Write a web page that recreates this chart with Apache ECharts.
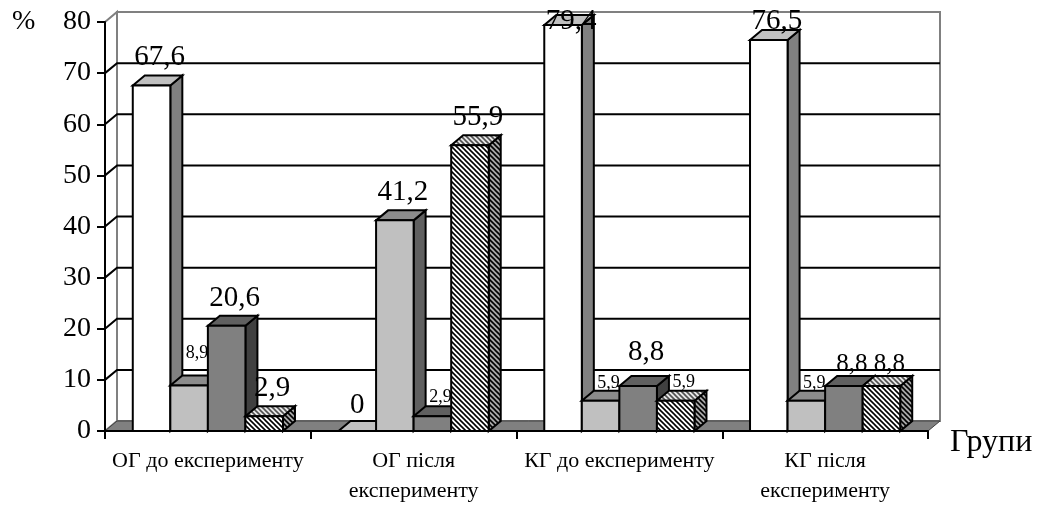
<!DOCTYPE html>
<html>
<head>
<meta charset="utf-8">
<style>
  html, body { margin: 0; padding: 0; background: #ffffff; }
  #chart { width: 1042px; height: 506px; }
</style>
<script src="https://cdn.jsdelivr.net/npm/echarts@6/dist/echarts.min.js"></script>
</head>
<body>
<div id="chart"></div>
<script>
// Groups and the share (%) of each level within a group
const categories = ['ОГ до експерименту', 'ОГ після\nексперименту', 'КГ до експерименту', 'КГ після\nексперименту'];
const level1 = [67.6, 0, 79.4, 76.5];
const level2 = [8.9, 41.2, 5.9, 5.9];
const level3 = [20.6, 2.9, 8.8, 8.8];
const level4 = [2.9, 55.9, 5.9, 8.8];
const yMin = 0, yMax = 80, yStep = 10;
const yTitle = '%';
const xTitle = 'Групи';

const levels = [level1, level2, level3, level4];

const SERIF = '"Liberation Serif", "Times New Roman", serif';
const DX = 12, DY = -10;          // oblique depth of the 3D boxes and walls
const BAR_SHARE = 0.1825;          // one box width as a share of a category slot

function stripes(bg, fg, period, width) {
  const c = document.createElement('canvas');
  c.width = period; c.height = period;
  const g = c.getContext('2d');
  g.fillStyle = bg; g.fillRect(0, 0, period, period);
  g.strokeStyle = fg; g.lineWidth = width;
  for (const off of [-period, 0, period]) {
    g.beginPath();
    g.moveTo(off - 2, -2);
    g.lineTo(off + period + 2, period + 2);
    g.stroke();
  }
  return { image: c, repeat: 'repeat' };
}

const faces = [
  { front: '#ffffff', top: '#c0c0c0', side: '#808080' },
  { front: '#c0c0c0', top: '#8c8c8c', side: '#606060' },
  { front: '#808080', top: '#606060', side: '#404040' },
  { front: stripes('#ffffff', '#000000', 5, 1.6), top: stripes('#e8e8e8', '#505050', 5, 1.6), side: stripes('#a8a8a8', '#000000', 5, 1.6) }
];

// label font size, lift above the box top and sideways shift, per "category:level"
const labelLook = {
  '0:1': { size: 18, gap: 16 },
  '1:0': { size: 29, gap: 6, dx: 0 },
  '1:2': { size: 18, gap: 3 },
  '2:1': { size: 18, gap: 1 },
  '2:2': { size: 29, gap: 14 },
  '2:3': { size: 18, gap: 2 },
  '3:1': { size: 18, gap: 1 },
  '3:2': { size: 25, gap: 3 },
  '3:3': { size: 25, gap: 3 }
};
const SMALL = 20;

function fmt(v) {
  return Number.isInteger(v) ? String(v) : v.toFixed(1).replace('.', ',');
}

function boxGeom(api, cat, lvl, val) {
  const base = api.coord([cat, 0]);
  const top = api.coord([cat, val]);
  const bw = api.size([1, 0])[0] * BAR_SHARE;
  const x0 = base[0] - 2 * bw + lvl * bw;
  return { x0: x0, x1: x0 + bw, y0: base[1], y1: top[1], bw: bw };
}

function boxRenderer(lvl) {
  return function (params, api) {
    const g = boxGeom(api, api.value(0), lvl, api.value(1));
    const f = faces[lvl];
    const edge = { stroke: '#000000', lineWidth: 2, lineJoin: 'miter' };
    return {
      type: 'group',
      children: [
        { type: 'polygon', shape: { points: [[g.x1, g.y1], [g.x1 + DX, g.y1 + DY], [g.x1 + DX, g.y0 + DY], [g.x1, g.y0]] },
          style: Object.assign({ fill: f.side }, edge) },
        { type: 'polygon', shape: { points: [[g.x0, g.y1], [g.x0 + DX, g.y1 + DY], [g.x1 + DX, g.y1 + DY], [g.x1, g.y1]] },
          style: Object.assign({ fill: f.top }, edge) },
        { type: 'rect', shape: { x: g.x0, y: g.y1, width: g.bw, height: g.y0 - g.y1 },
          style: Object.assign({ fill: f.front }, edge) }
      ]
    };
  };
}

function labelRenderer(params, api) {
  const cat = api.value(0), val = api.value(1), lvl = api.value(2);
  const look = labelLook[cat + ':' + lvl] || { size: 29, gap: 8 };
  const g = boxGeom(api, cat, lvl, val);
  const cx = (g.x0 + g.x1) / 2 + (look.dx != null ? look.dx : 8);
  let baseline = g.y1 + DY - look.gap;
  baseline = Math.max(baseline, 31);
  return {
    type: 'text',
    style: {
      text: fmt(val), x: cx, y: baseline - 0.3375 * look.size,
      font: look.size + 'px ' + SERIF, fill: '#000000',
      align: 'center', verticalAlign: 'middle'
    }
  };
}

function wallRenderer(params, api) {
  const cs = params.coordSys;
  const L = cs.x, T = cs.y, R = cs.x + cs.width, B = cs.y + cs.height;
  const kids = [
    { type: 'polygon', shape: { points: [[L, T], [L + DX, T + DY], [L + DX, B + DY], [L, B]] },
      style: { fill: '#ffffff', stroke: '#808080', lineWidth: 2 } },
    { type: 'rect', shape: { x: L + DX, y: T + DY, width: cs.width, height: cs.height },
      style: { fill: '#ffffff', stroke: '#808080', lineWidth: 2 } }
  ];
  for (let v = yMin + yStep; v < yMax; v += yStep) {
    const y = api.coord([0, v])[1];
    kids.push({ type: 'polyline', shape: { points: [[L, y], [L + DX, y + DY], [R + DX, y + DY]] },
      style: { stroke: '#000000', lineWidth: 2, fill: null } });
  }
  kids.push({ type: 'polygon', shape: { points: [[L, B], [L + DX, B + DY], [R + DX, B + DY], [R, B]] },
    style: { fill: '#808080', stroke: '#404040', lineWidth: 1 } });
  return { type: 'group', children: kids };
}

const bigLabels = [], smallLabels = [];
levels.forEach(function (arr, lvl) {
  arr.forEach(function (v, cat) {
    const look = labelLook[cat + ':' + lvl];
    (look && look.size < SMALL ? smallLabels : bigLabels).push([cat, v, lvl]);
  });
});

const series = [
  { type: 'custom', z: 0, silent: true, renderItem: wallRenderer, data: [[0, 0]] },
  { type: 'custom', z: 1, silent: true, renderItem: labelRenderer, data: smallLabels }
];
levels.forEach(function (arr, lvl) {
  series.push({
    type: 'custom', name: 'Рівень ' + (lvl + 1), z: 2, silent: true,
    renderItem: boxRenderer(lvl),
    data: arr.map(function (v, i) { return [i, v]; })
  });
});
series.push({ type: 'custom', z: 3, silent: true, renderItem: labelRenderer, data: bigLabels });

const chart = echarts.init(document.getElementById('chart'), null, { renderer: 'canvas' });
chart.setOption({
  animation: false,
  backgroundColor: '#ffffff',
  grid: { left: 105, right: 114, top: 22, bottom: 73, containLabel: false },
  xAxis: {
    type: 'category', data: categories, boundaryGap: true, z: 4,
    axisLine: { lineStyle: { color: '#000000', width: 2 } },
    axisTick: { show: true, length: 8, lineStyle: { color: '#000000', width: 2 } },
    axisLabel: { interval: 0, margin: 15, color: '#000000', fontFamily: SERIF, fontSize: 22, lineHeight: 30 },
    splitLine: { show: false }
  },
  yAxis: {
    type: 'value', min: yMin, max: yMax, interval: yStep, z: 4,
    axisLine: { show: true, lineStyle: { color: '#000000', width: 2 } },
    axisTick: { show: true, length: 8, lineStyle: { color: '#000000', width: 2 } },
    axisLabel: { margin: 14, color: '#000000', fontFamily: SERIF, fontSize: 28 },
    splitLine: { show: false }
  },
  graphic: [
    { type: 'text', left: 12, top: 8, style: { text: yTitle, font: '28px ' + SERIF, fill: '#000000' } },
    { type: 'text', left: 950, top: 427, style: { text: xTitle, font: '32px ' + SERIF, fill: '#000000' } }
  ],
  series: series
});
</script>
</body>
</html>
